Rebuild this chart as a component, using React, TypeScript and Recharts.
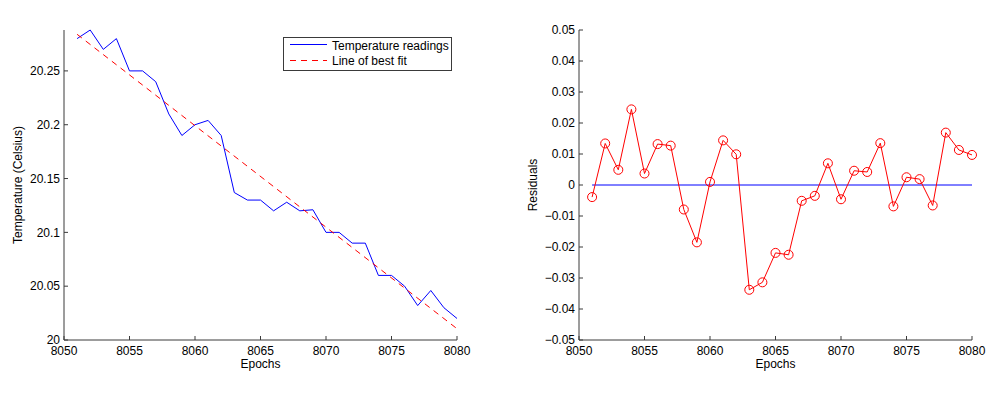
import React from "react";
import { LineChart, Line, XAxis, YAxis, Legend, Label } from "recharts";

const epochs = [
  8051, 8052, 8053, 8054, 8055, 8056, 8057, 8058, 8059, 8060,
  8061, 8062, 8063, 8064, 8065, 8066, 8067, 8068, 8069, 8070,
  8071, 8072, 8073, 8074, 8075, 8076, 8077, 8078, 8079, 8080,
];
const temperature = [
  20.28, 20.288, 20.27, 20.28, 20.25, 20.25, 20.24, 20.21, 20.19, 20.2,
  20.204, 20.19, 20.137, 20.13, 20.13, 20.12, 20.128, 20.12, 20.121, 20.1,
  20.1, 20.09, 20.09, 20.06, 20.06, 20.05, 20.032, 20.046, 20.03, 20.02,
];
const residuals = [
  -0.0039, 0.0134, 0.0049, 0.0244, 0.0037, 0.0132, 0.0127, -0.0079, -0.0185, 0.001,
  0.0144, 0.0099, -0.0338, -0.0314, -0.0219, -0.0225, -0.0051, -0.0035, 0.007, -0.0046,
  0.0046, 0.0042, 0.0135, -0.0069, 0.0025, 0.0019, -0.0066, 0.0169, 0.0113, 0.0097,
];
const fitEpochs = [8051, 8080];
const fitValues = [20.284, 20.0105];
const zeroEpochs = [8051, 8080];
const zeroValues = [0, 0];

const epochTicks = [8050, 8055, 8060, 8065, 8070, 8075, 8080];
const tempTicks = [20, 20.05, 20.1, 20.15, 20.2, 20.25];
const residualTicks = [-0.05, -0.04, -0.03, -0.02, -0.01, 0, 0.01, 0.02, 0.03, 0.04, 0.05];

const seriesNames = ["Temperature readings", "Line of best fit"];

const tempData = epochs.map((epoch, i) => ({ epoch, value: temperature[i] }));
const fitData = fitEpochs.map((epoch, i) => ({ epoch, value: fitValues[i] }));
const residualData = epochs.map((epoch, i) => ({ epoch, value: residuals[i] }));
const zeroData = zeroEpochs.map((epoch, i) => ({ epoch, value: zeroValues[i] }));

const axisColor = "#3a3a3a";
const tickStyle = { fill: "#000", fontSize: 12 };
const labelStyle = { fill: "#000", fontSize: 12 };

const formatTemp = (v: number) => String(+v.toFixed(2));
const formatResidual = (v: number) => {
  if (Math.abs(v) < 1e-9) return "0";
  return (v < 0 ? "\u2212" : "") + Math.abs(v).toFixed(2);
};

const LegendBox = () => (
  <svg width={170} height={35} style={{ display: "block" }}>
    <rect x={0.5} y={0.5} width={168} height={33} fill="#fff" stroke={axisColor} />
    <line x1={7} x2={44} y1={7.5} y2={7.5} stroke="#0000ff" />
    <text x={49} y={13} fontSize={12} fill="#000">{seriesNames[0]}</text>
    <line x1={7} x2={44} y1={23.5} y2={23.5} stroke="#ff0000" strokeDasharray="6 5" />
    <text x={49} y={28} fontSize={12} fill="#000">{seriesNames[1]}</text>
  </svg>
);

const App: React.FC = () => (
  <div
    style={{
      position: "absolute", left: 0, top: 0, width: 1000, height: 396,
      background: "#fff", fontFamily: "'Liberation Sans', Arial, sans-serif",
    }}
  >
    <div style={{ position: "absolute", left: 0, top: 0 }}>
      <LineChart width={500} height={396} margin={{ top: 30, right: 43, bottom: 26, left: 0 }}>
        <XAxis
          dataKey="epoch" type="number" domain={[8050, 8080]} ticks={epochTicks}
          height={30} tickSize={-4} tickMargin={10} stroke={axisColor} tick={tickStyle}
        >
          <Label value="Epochs" position="insideBottom" offset={2} style={labelStyle} />
        </XAxis>
        <XAxis
          xAxisId="top" orientation="top" dataKey="epoch" type="number" domain={[8050, 8080]}
          ticks={epochTicks} height={0} tickSize={-4} tick={false} stroke={axisColor}
        >
          <Label value="(a)" position="top" offset={9} style={labelStyle} />
        </XAxis>
        <YAxis
          type="number" domain={[20, 20.288]} ticks={tempTicks} width={64}
          tickSize={-4} tickMargin={8} stroke={axisColor} tick={tickStyle} tickFormatter={formatTemp}
        >
          <Label
            value="Temperature (Celsius)" angle={-90} position="insideLeft" offset={18}
            style={{ ...labelStyle, textAnchor: "middle" }}
          />
        </YAxis>
        <YAxis
          yAxisId="r" orientation="right" type="number" domain={[20, 20.288]} ticks={tempTicks}
          width={0} tickSize={-4} tick={false} stroke={axisColor}
        />
        <Line
          data={tempData} dataKey="value" name={seriesNames[0]} type="linear"
          stroke="#0000ff" strokeWidth={1} dot={false} isAnimationActive={false}
        />
        <Line
          data={fitData} dataKey="value" name={seriesNames[1]} type="linear"
          stroke="#ff0000" strokeWidth={1} strokeDasharray="6 5" dot={false} isAnimationActive={false}
        />
        <Legend
          layout="horizontal" verticalAlign="middle" align="center"
          content={() => <LegendBox />}
          wrapperStyle={{ left: 283, top: 37, width: 170, height: 35 }}
        />
      </LineChart>
    </div>
    <div style={{ position: "absolute", left: 500, top: 0 }}>
      <LineChart width={500} height={396} margin={{ top: 30, right: 28, bottom: 26, left: 0 }}>
        <XAxis
          dataKey="epoch" type="number" domain={[8050, 8080]} ticks={epochTicks}
          height={30} tickSize={-4} tickMargin={10} stroke={axisColor} tick={tickStyle}
        >
          <Label value="Epochs" position="insideBottom" offset={2} style={labelStyle} />
        </XAxis>
        <XAxis
          xAxisId="top" orientation="top" dataKey="epoch" type="number" domain={[8050, 8080]}
          height={0} axisLine={false} tickLine={false} tick={false}
        >
          <Label value="(b)" position="top" offset={9} style={labelStyle} />
        </XAxis>
        <YAxis
          type="number" domain={[-0.05, 0.05]} ticks={residualTicks} width={79}
          tickSize={-4} tickMargin={8} stroke={axisColor} tick={tickStyle} tickFormatter={formatResidual}
        >
          <Label
            value="Residuals" angle={-90} position="insideLeft" offset={33}
            style={{ ...labelStyle, textAnchor: "middle" }}
          />
        </YAxis>
        <Line
          data={zeroData} dataKey="value" type="linear" stroke="#0000ff" strokeWidth={1}
          dot={false} isAnimationActive={false}
        />
        <Line
          data={residualData} dataKey="value" type="linear" stroke="#ff0000" strokeWidth={1}
          dot={{ r: 4.5, stroke: "#ff0000", strokeWidth: 1, fill: "none" }}
          isAnimationActive={false}
        />
      </LineChart>
    </div>
  </div>
);

export default App;
